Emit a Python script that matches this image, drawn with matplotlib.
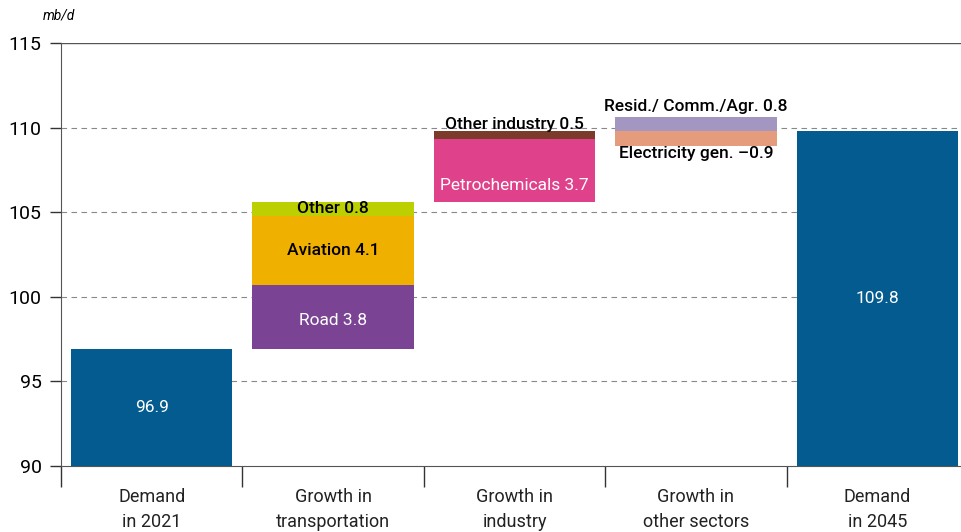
import numpy as np
import matplotlib.pyplot as plt

plt.rcParams['font.family'] = ['Roboto', 'DejaVu Sans']

categories = ["Demand\nin 2021", "Growth in\ntransportation", "Growth in\nindustry",
              "Growth in\nother sectors", "Demand\nin 2045"]
demand_2021 = 96.9
demand_2045 = 109.8
transport = [("Road", 3.8), ("Aviation", 4.1), ("Other", 0.8)]
industry = [("Petrochemicals", 3.7), ("Other industry", 0.5)]
resid = ("Resid./ Comm./Agr.", 0.8)
elec = ("Electricity gen.", -0.9)

blue = "#035B8F"
transport_colors = ["#7B4393", "#F0B000", "#BCCF00"]
industry_colors = ["#E0418B", "#7B3A2A"]
resid_color = "#A396C0"
elec_color = "#E59C7C"

fig = plt.figure(figsize=(9.62, 5.32), dpi=100)
ax = fig.add_axes([61/962, 66/532, 907/962, 423/532])
w = 0.89
base = 90
fs = 12.5
bold = "medium"

# gridlines
for y in [95, 100, 105, 110]:
    ax.axhline(y, color="#888888", lw=0.8, ls=(0, (5, 4)), zorder=0)
ax.axhline(115, color="#555555", lw=1.0, zorder=0)

# demand 2021
ax.bar(0, demand_2021 - base, bottom=base, width=w, color=blue)
ax.text(0, (base + demand_2021) / 2, f"{demand_2021}", ha="center", va="center",
        color="white", fontsize=fs)

# transportation
bottom = demand_2021
for (name, v), c in zip(transport, transport_colors):
    ax.bar(1, v, bottom=bottom, width=w, color=c)
    mid = bottom + v / 2
    col = "white" if name == "Road" else "black"
    fw = "normal" if name == "Road" else bold
    if name == "Road":
        mid -= 0.2
    ax.text(1, mid, f"{name} {v}", ha="center", va="center", color=col,
            fontsize=fs, fontweight=fw)
    bottom += v

# industry
ind_start = bottom
for (name, v), c in zip(industry, industry_colors):
    ax.bar(2, v, bottom=bottom, width=w, color=c)
    bottom += v
ax.text(2, ind_start + 1.0, f"{industry[0][0]} {industry[0][1]}", ha="center", va="center",
        color="white", fontsize=fs)
ax.text(2, bottom + 0.4, f"{industry[1][0]} {industry[1][1]}", ha="center", va="center",
        color="black", fontsize=fs, fontweight=bold)

# other sectors
oth_start = bottom
ax.bar(3, resid[1], bottom=oth_start, width=w, color=resid_color)
ax.bar(3, elec[1], bottom=oth_start, width=w, color=elec_color)
ax.text(3, oth_start + resid[1] + 0.65, f"{resid[0]} {resid[1]}", ha="center", va="center",
        color="black", fontsize=fs, fontweight=bold)
ax.text(3, oth_start + elec[1] - 0.45, f"{elec[0]} \u2013{abs(elec[1])}", ha="center",
        va="center", color="black", fontsize=fs, fontweight=bold)

# demand 2045
ax.bar(4, demand_2045 - base, bottom=base, width=w, color=blue)
ax.text(4, (base + demand_2045) / 2, f"{demand_2045}", ha="center", va="center",
        color="white", fontsize=fs)

ax.set_xlim(-0.5, 4.5)
ax.set_ylim(90, 115)
ax.set_yticks([90, 95, 100, 105, 110, 115])
ax.tick_params(axis="y", labelsize=14, length=8, width=1, color="#333333", pad=6)
ax.set_xticks(np.arange(5))
ax.set_xticklabels(categories, fontsize=13, color="#222222", linespacing=1.5)
ax.tick_params(axis="x", length=0, pad=16)
ax.set_xticks(np.arange(-0.5, 4, 1), minor=True)
ax.tick_params(axis="x", which="minor", length=15, width=1, color="#333333")
for s in ["top", "right"]:
    ax.spines[s].set_visible(False)
ax.spines["left"].set_color("#555555")
ax.spines["bottom"].set_color("#555555")

fig.text(43/962, 1 - 16/532, "mb/d", fontsize=10, fontstyle="italic", va="center")

fig.savefig("out.png", dpi=100)
